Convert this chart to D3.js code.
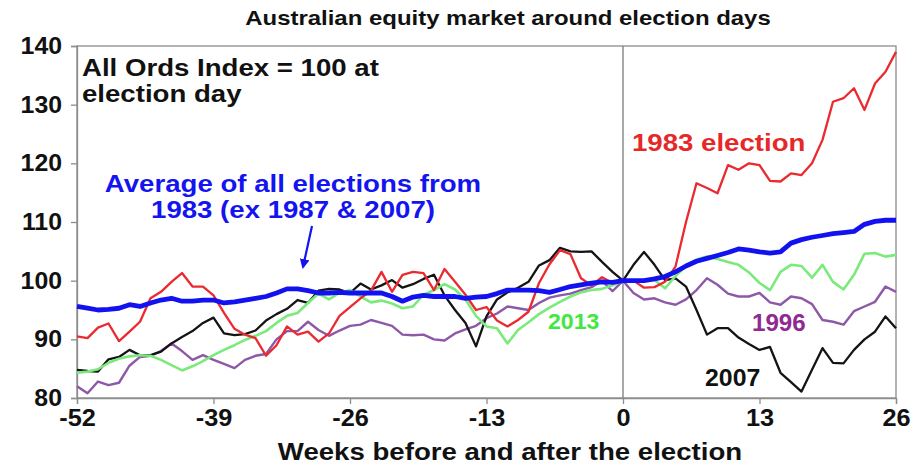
<!DOCTYPE html>
<html>
<head>
<meta charset="utf-8">
<script src="https://cdn.jsdelivr.net/npm/d3@7"></script>
<style>
  html, body { margin: 0; padding: 0; background: #fff; }
  svg { display: block; font-family: "Liberation Sans", Arial, sans-serif; }
  text { font-weight: bold; }
</style>
</head>
<body>
<svg id="chart" width="914" height="466"></svg>
<script>
// Weeks relative to election day
const weeks = d3.range(-52, 27);

// All Ords index rebased to 100 on election day
const avgAll = [95.6, 95.3, 95.0, 95.1, 95.3, 95.9, 95.6, 96.2, 96.7, 97.0, 96.5, 96.5, 96.7, 96.7,
  96.2, 96.4, 96.7, 97.0, 97.3, 97.9, 98.6, 98.6, 98.3, 97.9, 97.9, 98.0, 97.9,
  97.9, 97.9, 97.9, 97.3, 96.5, 97.2, 97.5, 97.3, 97.3, 97.3, 97.0, 97.2, 97.3,
  97.8, 98.4, 98.4, 98.4, 98.3, 98.0, 98.5, 99.0, 99.3, 99.6, 99.8, 99.7, 100,
  100, 100, 100.3, 100.7, 101.5, 102.5, 103.3, 103.8, 104.3, 104.8, 105.4, 105.2, 104.9,
  104.7, 104.9, 106.4, 107.0, 107.4, 107.7, 108.0, 108.2, 108.4, 109.6, 110.1, 110.3, 110.3];

const e1983 = [90.5, 90.2, 92.0, 92.7, 89.7, 91.3, 93.0, 97.0, 98.1, 99.8, 101.3, 99.0, 99.0, 97.5,
  94.5, 91.8, 90.8, 90.2, 87.2, 89.0, 92.2, 90.8, 91.3, 89.6, 91.0, 94.0, 95.5,
  97.0, 98.3, 101.5, 98.1, 101.0, 101.5, 101.3, 98.4, 102.0, 99.8, 97.6, 95.0, 95.5,
  93.2, 92.2, 93.3, 94.7, 99.6, 102.8, 105.2, 104.5, 100.4, 99.2, 100.6, 99.6, 100,
  100, 98.8, 98.9, 99.8, 102.4, 110.0, 116.6, 115.8, 114.9, 119.7, 118.9, 120.0, 119.7,
  117.0, 116.9, 118.3, 118.0, 120.0, 124.0, 130.5, 131.1, 132.8, 129.1, 133.6, 135.6, 139.0];

const e2013 = [84.3, 84.5, 84.9, 86.0, 86.7, 87.1, 87.3, 87.2, 86.5, 85.6, 84.7, 85.4, 86.3, 87.3,
  88.2, 89.0, 89.9, 90.6, 91.4, 92.8, 94.0, 94.5, 96.2, 97.8, 96.8, 97.9, 98.4,
  97.3, 96.3, 96.6, 96.1, 95.3, 95.6, 97.6, 98.4, 99.4, 98.5, 96.8, 94.0, 92.2,
  91.9, 89.3, 91.6, 92.9, 94.3, 95.4, 96.4, 97.3, 98.0, 98.4, 98.6, 99.2, 100,
  100, 100.1, 100.1, 98.7, 100.8, 102.5, 103.6, 104.1, 103.7, 103.2, 102.7, 101.4, 99.6,
  98.4, 101.5, 102.7, 102.5, 100.5, 102.7, 99.8, 98.5, 101.0, 104.6, 104.7, 104.1, 104.4];

const e1996 = [82.0, 80.8, 82.8, 82.2, 82.6, 85.5, 87.0, 87.2, 88.0, 89.3, 88.0, 86.5, 87.3, 86.5,
  85.8, 85.1, 86.5, 87.2, 87.5, 90.0, 91.4, 91.4, 93.0, 91.6, 90.6, 91.5, 92.3,
  92.5, 93.3, 92.8, 92.3, 90.8, 90.7, 90.8, 90.0, 89.8, 91.0, 91.7, 92.3, 93.6,
  94.4, 95.6, 95.3, 95.0, 96.2, 97.1, 97.5, 97.8, 98.4, 98.9, 100.0, 98.2, 100,
  97.9, 96.8, 97.0, 96.3, 95.9, 96.8, 98.4, 100.4, 99.3, 97.8, 97.3, 97.3, 97.9,
  96.3, 95.9, 97.3, 97.0, 96.0, 93.3, 93.0, 92.5, 94.8, 95.6, 96.4, 99.0, 98.1];

const e2007 = [84.8, 84.6, 84.5, 86.6, 87.0, 88.2, 87.3, 87.3, 87.9, 89.3, 90.4, 91.4, 92.8, 93.7,
  91.0, 90.7, 90.9, 91.5, 93.2, 94.3, 95.2, 96.7, 96.2, 98.3, 98.6, 98.5, 97.9,
  99.5, 98.5, 99.2, 100.1, 98.8, 99.4, 100.3, 101.0, 97.5, 95.0, 92.8, 88.8, 93.9,
  96.8, 98.0, 98.8, 99.8, 102.6, 103.5, 105.6, 105.0, 104.9, 105.0, 103.2, 101.5, 100,
  102.7, 104.9, 102.7, 100.1, 100.4, 99.0, 95.0, 90.8, 91.9, 91.9, 90.3, 89.2, 88.2,
  88.7, 84.3, 82.7, 81.1, 84.8, 88.5, 86.0, 85.9, 88.2, 90.0, 91.3, 93.9, 91.9];

const xTicks = [-52, -39, -26, -13, 0, 13, 26];
const yTicks = [80, 90, 100, 110, 120, 130, 140];

const svg = d3.select("#chart");
const plotL = 77, plotR = 896, plotT = 46, plotB = 398;

const x = d3.scaleLinear().domain([-52, 26]).range([plotL, plotR]);
const y = d3.scaleLinear().domain([80, 140]).range([plotB, plotT]);

const frame = "#8c8c8c";
const fontStack = "'Liberation Sans', Arial, sans-serif";

// widen bold text slightly, keeping its anchor
function widen(sel, k) {
  sel.each(function () {
    const w = this.getComputedTextLength();
    d3.select(this).attr("textLength", w * k).attr("lengthAdjust", "spacingAndGlyphs");
  });
}

// plot frame
svg.append("rect")
  .attr("x", plotL).attr("y", plotT)
  .attr("width", plotR - plotL).attr("height", plotB - plotT)
  .attr("fill", "none").attr("stroke", frame).attr("stroke-width", 1.3);

// election day marker
svg.append("line")
  .attr("x1", x(0)).attr("x2", x(0))
  .attr("y1", plotT).attr("y2", plotB)
  .attr("stroke", "#7a7a7a").attr("stroke-width", 1.3);

// axes
const yAxis = svg.append("g")
  .attr("transform", `translate(${plotL},0)`)
  .call(d3.axisLeft(y).tickValues(yTicks).tickSize(6).tickPadding(9));
const xAxis = svg.append("g")
  .attr("transform", `translate(0,${plotB})`)
  .call(d3.axisBottom(x).tickValues(xTicks).tickSize(6).tickPadding(4)
    .tickFormat(d => String(d)));

[yAxis, xAxis].forEach(g => {
  g.select(".domain").attr("stroke", frame).attr("stroke-width", 1.3);
  g.selectAll(".tick line").attr("stroke", frame).attr("stroke-width", 1.3);
  g.selectAll(".tick text")
    .attr("fill", "#111")
    .style("font-family", fontStack)
    .style("font-weight", "bold")
    .style("font-size", "23px");
});
widen(yAxis.selectAll(".tick text"), 1.08);
widen(xAxis.selectAll(".tick text"), 1.1);
xAxis.selectAll(".tick text").attr("dy", "0.78em");

// series
const line = d3.line().x((d, i) => x(weeks[i])).y(d => y(d));
const series = [
  { values: e1996, color: "#8d58a8", width: 2.4 },
  { values: e2007, color: "#141414", width: 2.3 },
  { values: e2013, color: "#7aea7a", width: 2.6 },
  { values: e1983, color: "#ea2a30", width: 2.3 },
  { values: avgAll, color: "#1212f0", width: 4.8 }
];
svg.append("g").selectAll("path")
  .data(series).join("path")
  .attr("d", d => line(d.values))
  .attr("fill", "none")
  .attr("stroke", d => d.color)
  .attr("stroke-width", d => d.width)
  .attr("stroke-linejoin", "round");

// text
function label(txt, px, py, opts = {}) {
  const t = svg.append("text")
    .attr("x", px).attr("y", py)
    .attr("text-anchor", opts.anchor || "start")
    .attr("fill", opts.color || "#111")
    .style("font-size", (opts.size || 23) + "px")
    .text(txt);
  widen(t, opts.k || 1.12);
  return t;
}

label("Australian equity market around election days", 508, 25, { anchor: "middle", size: 21, k: 1.14 });
label("Weeks before and after the election", 510, 460, { anchor: "middle", size: 23, k: 1.2 });
label("All Ords Index = 100 at", 82, 76, { size: 23, k: 1.2 });
label("election day", 82, 102, { size: 23, k: 1.2 });
label("Average of all elections from", 293, 192, { anchor: "middle", color: "#1414f0", size: 23, k: 1.2 });
label("1983 (ex 1987 & 2007)", 293, 218, { anchor: "middle", color: "#1414f0", size: 23, k: 1.2 });
label("1983 election", 632, 151, { color: "#e62828", size: 23, k: 1.2 });
label("2013", 548, 329, { color: "#3ee83e", size: 22, k: 1.05 });
label("1996", 752, 331, { color: "#8e2a91", size: 23, k: 1.05 });
label("2007", 705, 386, { color: "#111", size: 23, k: 1.08 });

// arrow pointing at the average line
const defs = svg.append("defs");
defs.append("marker")
  .attr("id", "head").attr("viewBox", "0 0 10 10")
  .attr("refX", 8).attr("refY", 5)
  .attr("markerWidth", 4.5).attr("markerHeight", 4.5)
  .attr("orient", "auto")
  .append("path").attr("d", "M0,0 L10,5 L0,10 Z").attr("fill", "#1414f0");
svg.append("line")
  .attr("x1", 312).attr("y1", 226)
  .attr("x2", 303).attr("y2", 267)
  .attr("stroke", "#1414f0").attr("stroke-width", 2.2)
  .attr("marker-end", "url(#head)");
</script>
</body>
</html>
